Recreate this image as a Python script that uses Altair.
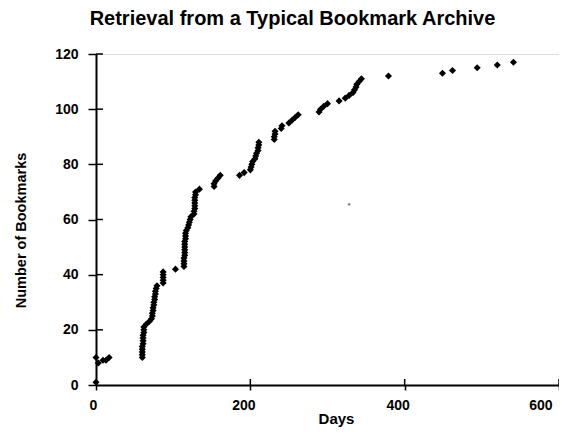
import altair as alt
import pandas as pd

# Days since archive start for each retrieval, and the bookmark count at that time
days = [0, 0, 3, 9, 13, 17,
        60, 60, 60, 60, 60, 61, 61, 61, 61, 62, 62, 62,
        65, 69, 72, 73, 73, 74, 74, 75, 75, 76, 76, 77, 77, 78, 79,
        87, 87, 87, 87, 87, 103,
        114, 114, 114, 114, 115, 115, 115, 115, 115, 115, 116, 116, 116, 117,
        119, 120, 121, 122, 123,
        127, 127, 128, 128, 128, 128, 128, 129, 129, 134,
        153, 153, 155, 158, 161,
        186, 192,
        200, 201, 202, 203,
        206, 207, 208, 210, 210, 211, 211,
        231, 231, 232, 232, 240, 241,
        250, 254, 258, 262,
        289, 291, 295, 300, 315,
        323, 328, 333, 335, 337, 338, 341, 344,
        379, 449, 462, 494, 520, 541]
counts = [1, 10, 8, 9, 9, 10,
          10, 11, 12, 13, 14, 15, 16, 17, 18, 19, 20, 21,
          22, 23, 24, 25, 26, 27, 28, 29, 30, 31, 32, 33, 34, 35, 36,
          37, 38, 39, 40, 41, 42,
          43, 44, 45, 46, 47, 48, 49, 50, 51, 52, 53, 54, 55, 56,
          57, 58, 59, 60, 61,
          62, 63, 64, 65, 66, 67, 68, 69, 70, 71,
          72, 73, 74, 75, 76,
          76, 77,
          78, 79, 80, 81,
          82, 83, 84, 85, 86, 87, 88,
          89, 90, 91, 92, 93, 94,
          95, 96, 97, 98,
          99, 100, 101, 102, 103,
          104, 105, 106, 107, 108, 109, 110, 111,
          112, 113, 114, 115, 116, 117]

stray_day = [328]
stray_count = [65.5]

x_ticks = [0, 200, 400, 600]
y_ticks = [0, 20, 40, 60, 80, 100, 120]

title_text = "Retrieval from a Typical Bookmark Archive"
x_title = "Days"
y_title = "Number of Bookmarks"

FONT = "Liberation Sans"
W, H = 463, 331

df = pd.DataFrame({"day": days, "count": counts})
stray = pd.DataFrame({"day": stray_day, "count": stray_count})
xt = pd.DataFrame({"v": x_ticks[1:]})
yt = pd.DataFrame({"v": y_ticks[1:]})

xscale = alt.Scale(domain=[0, 600], nice=False, zero=False)
yscale = alt.Scale(domain=[0, 120], nice=False, zero=False)

xaxis = alt.Axis(values=x_ticks, title=x_title, grid=False,
                 domainColor="black", domainWidth=2,
                 tickColor="black", tickWidth=1.5, tickSize=5,
                 labelFont=FONT, labelFontSize=14, labelFontWeight="bold",
                 labelColor="black", labelPadding=8, labelOffset=-7,
                 titleFont=FONT, titleFontSize=15, titleFontWeight="bold",
                 titleColor="black", titleX=240, titleY=33,
                 titleBaseline="middle", titleAlign="center")
yaxis = alt.Axis(values=y_ticks, title=y_title, grid=False,
                 domainColor="black", domainWidth=2,
                 tickColor="black", tickWidth=1.5, tickSize=8,
                 labelFont=FONT, labelFontSize=14, labelFontWeight="bold",
                 labelColor="black", labelPadding=10,
                 titleFont=FONT, titleFontSize=14.5, titleFontWeight="bold",
                 titleColor="black", titleX=-75, titleY=176, titleAngle=270,
                 titleBaseline="middle", titleAlign="center")

points = alt.Chart(df).mark_point(shape="diamond", filled=True, color="black",
                                  size=50, opacity=1).encode(
    x=alt.X("day:Q", scale=xscale, axis=xaxis),
    y=alt.Y("count:Q", scale=yscale, axis=yaxis),
)

stray_pt = alt.Chart(stray).mark_point(shape="cross", filled=True, color="#444",
                                       size=8).encode(
    x=alt.X("day:Q", scale=xscale),
    y=alt.Y("count:Q", scale=yscale),
)

ytick_in = alt.Chart(yt).mark_rule(color="black", strokeWidth=1.5).encode(
    y=alt.Y("v:Q", scale=yscale), x=alt.value(0), x2=alt.value(7))
xtick_in = alt.Chart(xt).mark_rule(color="black", strokeWidth=1.5).encode(
    x=alt.X("v:Q", scale=xscale), y=alt.value(H), y2=alt.value(H - 6))

chart = alt.layer(ytick_in, xtick_in, points, stray_pt).properties(
    width=W, height=H,
    title=alt.TitleParams(title_text, font=FONT, fontSize=20, fontWeight="bold",
                          color="black", anchor="middle", dx=-35, offset=18),
    autosize=alt.AutoSizeParams(type="none"),
    padding={"left": 88, "top": 46, "right": 0, "bottom": 43},
).configure_view(
    stroke="#444", strokeWidth=1, strokeDash=[2, 1]
).configure(background="white")

chart.save("out.html", embed_options={"renderer": "svg", "actions": False})
